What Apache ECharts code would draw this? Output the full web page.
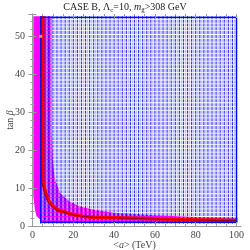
<!DOCTYPE html>
<html><head><meta charset="utf-8">
<script src="https://cdn.jsdelivr.net/npm/echarts@6/dist/echarts.min.js"></script>
<style>html,body{margin:0;padding:0;background:#fff}#c{width:250px;height:250px}</style>
</head><body><div id="c"></div>
<script>
// scan grid columns / rows
const darkCols = [4,6,8,10,12,14,16,18,20,22,24,26,28,30,32,34,36,38,40,42,44,46,48,50,52,54,56,58,60,62,64,66,68,70,72,74,76,78,80,82,84,86,88,90,92,94,96,98,100];
const lightCols = [5,7,9,11,13,15,17,19,21,23,25,27,29,31,33,35,37,39,41,43,45,47,49,51,53,55,57,59,61,63,65,67,69,71,73,75,77,79,81,83,85,87,89,91,93,95,97,99];
const rowsY = [1,2,3,4,5,6,7,8,9,10,11,12,13,14,15,16,17,18,19,20,21,22,23,24,25,26,27,28,29,30,31,32,33,34,35,36,37,38,39,40,41,42,43,44,45,46,47,48,49,50,51,52,53,54,55];
// magenta allowed band (boundary)
const magentaX = [0.4,9.4,9.4,10,11,13.5,18,23,30,40,60,80,100.5,100.5,4,3.7,2,1.2,0.4];
const magentaY = [55.3,55.3,25,17,12.3,8.8,6.5,5.2,4.3,3.5,2.85,2.4,2.15,0.9,0.9,1.7,2.6,4.3,7.9];
// red band centre
const redX = [5.0,5.0,5.0,5.6,7.0,8.6,11.9,16.8,21.7,28,40,60,80,100];
const redY = [55.3,17.5,12,10.5,7.9,6.1,4.4,3.5,2.8,2.4,2.2,1.9,1.65,1.45];
// dark core line of the red band
const coreX = [4.3,4.3,4.5,5.2,6.6,8.3,11.6,16.6,21.6,28,40,60,80,100];
const coreY = [55.3,17.5,12,10.3,7.7,5.9,4.3,3.4,2.75,2.35,2.15,1.85,1.6,1.42];
// scan region rectangle
const boxX = [4,100,100,4,4];
const boxY = [1,1,55,55,1];
// benchmark point
const benchX = [4];
const benchY = [50];
const xTicks = [0,20,40,60,80,100];
const yTicks = [0,10,20,30,40,50];

const F = 'Liberation Serif';
const darkData = [], lightData = [];
darkCols.forEach(x => rowsY.forEach(y => darkData.push([x, y])));
lightCols.forEach(x => rowsY.forEach(y => lightData.push([x, y])));
const magPoly = magentaX.map((x, i) => [x, magentaY[i]]);
const frameGrey = '#9a9a9a';
const labelStyle = {fontFamily: F, fontSize: 10, color: '#444'};
const nameRich = {n: {fontFamily: F, fontSize: 10, color: '#444'}, i: {fontFamily: F, fontSize: 10, fontStyle: 'italic', color: '#444'}};

const chart = echarts.init(document.getElementById('c'));
chart.setOption({
  animation: false,
  title: {
    left: 'center', top: 1, padding: [0, 0, 0, 19],
    text: '{n|CASE B, Λ}{s|c}{n|=10, }{i|m}{s|g\u0303}{n|>308 GeV}',
    textStyle: {
      fontWeight: 'normal',
      rich: {
        n: {fontFamily: F, fontSize: 10, fontWeight: 'normal', color: '#222', lineHeight: 13},
        i: {fontFamily: F, fontSize: 10, fontWeight: 'normal', fontStyle: 'italic', color: '#222', lineHeight: 13},
        s: {fontFamily: F, fontSize: 7, fontWeight: 'normal', color: '#222', lineHeight: 13, padding: [5, 0, 0, 0]}
      }
    }
  },
  grid: [
    {left: 29, right: 9, top: 14, bottom: 24, outerBoundsMode: 'none', containLabel: false},
    {left: 32.5, right: 13.5, top: 14, bottom: 24, outerBoundsMode: 'none', containLabel: false}
  ],
  xAxis: [
    {gridIndex: 0, type: 'value', min: -1.7, max: 102.2, position: 'bottom', z: 10,
     axisLine: {show: true, lineStyle: {color: frameGrey, width: 1}}, axisTick: {show: false}, axisLabel: {show: false}, splitLine: {show: false}},
    {gridIndex: 0, type: 'value', min: -1.7, max: 102.2, position: 'top', z: 10,
     axisLine: {show: true, lineStyle: {color: frameGrey, width: 1}}, axisTick: {show: false}, axisLabel: {show: false}, splitLine: {show: false}},
    {gridIndex: 1, type: 'value', min: xTicks[0], max: xTicks[xTicks.length - 1], interval: 20, position: 'bottom', z: 10,
     axisLine: {show: false}, axisTick: {show: true, inside: true, length: 4, lineStyle: {color: frameGrey}},
     minorTick: {show: true, splitNumber: 4, length: 2, lineStyle: {color: frameGrey}},
     axisLabel: Object.assign({margin: 4}, labelStyle), splitLine: {show: false},
     name: '{n|<}{i|a}{n|> (TeV)}', nameLocation: 'middle', nameGap: 14, nameMoveOverlap: false,
     nameTextStyle: {rich: nameRich}},
    {gridIndex: 1, type: 'value', min: xTicks[0], max: xTicks[xTicks.length - 1], interval: 20, position: 'top', z: 10,
     axisLine: {show: false}, axisTick: {show: true, inside: true, length: 4, lineStyle: {color: frameGrey}},
     minorTick: {show: true, splitNumber: 4, length: 2, lineStyle: {color: frameGrey}},
     axisLabel: {show: false}, splitLine: {show: false}}
  ],
  yAxis: [
    {gridIndex: 0, type: 'value', min: yTicks[0], max: 55.9, interval: 10, position: 'left', z: 10,
     axisLine: {show: true, lineStyle: {color: frameGrey}}, axisTick: {show: true, inside: true, length: 4, lineStyle: {color: frameGrey}},
     minorTick: {show: true, splitNumber: 5, length: 2, lineStyle: {color: frameGrey}},
     axisLabel: Object.assign({margin: 4, showMaxLabel: false, inside: false, align: 'right'}, labelStyle), splitLine: {show: false},
     name: '{n|tan }{i|β}', nameLocation: 'middle', nameGap: 14, nameRotate: 90, nameMoveOverlap: false,
     nameTextStyle: {rich: nameRich}},
    {gridIndex: 0, type: 'value', min: yTicks[0], max: 55.9, interval: 10, position: 'right', z: 10,
     axisLine: {show: true, lineStyle: {color: frameGrey}}, axisTick: {show: true, inside: true, length: 4, lineStyle: {color: frameGrey}},
     minorTick: {show: true, splitNumber: 5, length: 2, lineStyle: {color: frameGrey}},
     axisLabel: {show: false}, splitLine: {show: false}},
    {gridIndex: 1, type: 'value', min: 0, max: 55.9, show: false}
  ],
  series: [
    {type: 'custom', xAxisIndex: 2, yAxisIndex: 2, z: 1, data: [0], silent: true,
     renderItem: function (params, api) {
       return {type: 'polygon', shape: {points: magPoly.map(p => api.coord(p))}, style: {fill: '#ff00ff'}};
     }},
    {type: 'scatter', xAxisIndex: 2, yAxisIndex: 2, z: 2, data: lightData, symbol: 'rect', symbolSize: [1.5, 3.0],
     itemStyle: {color: '#a8a8ff'}, large: false, progressive: 0, silent: true},
    {type: 'scatter', xAxisIndex: 2, yAxisIndex: 2, z: 3, data: darkData, symbol: 'rect', symbolSize: [1.2, 3.0],
     itemStyle: {color: '#0000ff'}, large: false, progressive: 0, silent: true},
    {type: 'line', xAxisIndex: 2, yAxisIndex: 2, z: 4, data: redX.map((x, i) => [x, redY[i]]), showSymbol: false, smooth: 0.3,
     lineStyle: {color: '#ff0000', width: 3.5}, silent: true},
    {type: 'line', xAxisIndex: 2, yAxisIndex: 2, z: 5, data: boxX.map((x, i) => [x, boxY[i]]), showSymbol: false,
     lineStyle: {color: '#0000ff', width: 1.4}, silent: true},
    {type: 'line', xAxisIndex: 2, yAxisIndex: 2, z: 6, data: coreX.map((x, i) => [x, coreY[i]]), showSymbol: false, smooth: 0.3,
     lineStyle: {color: '#8a0018', width: 1}, silent: true},
    {type: 'scatter', xAxisIndex: 2, yAxisIndex: 2, z: 7, data: benchX.map((x, i) => [x, benchY[i]]), symbol: 'rect', symbolSize: 3,
     itemStyle: {color: '#f5c518'}, silent: true}
  ]
});
</script></body></html>
